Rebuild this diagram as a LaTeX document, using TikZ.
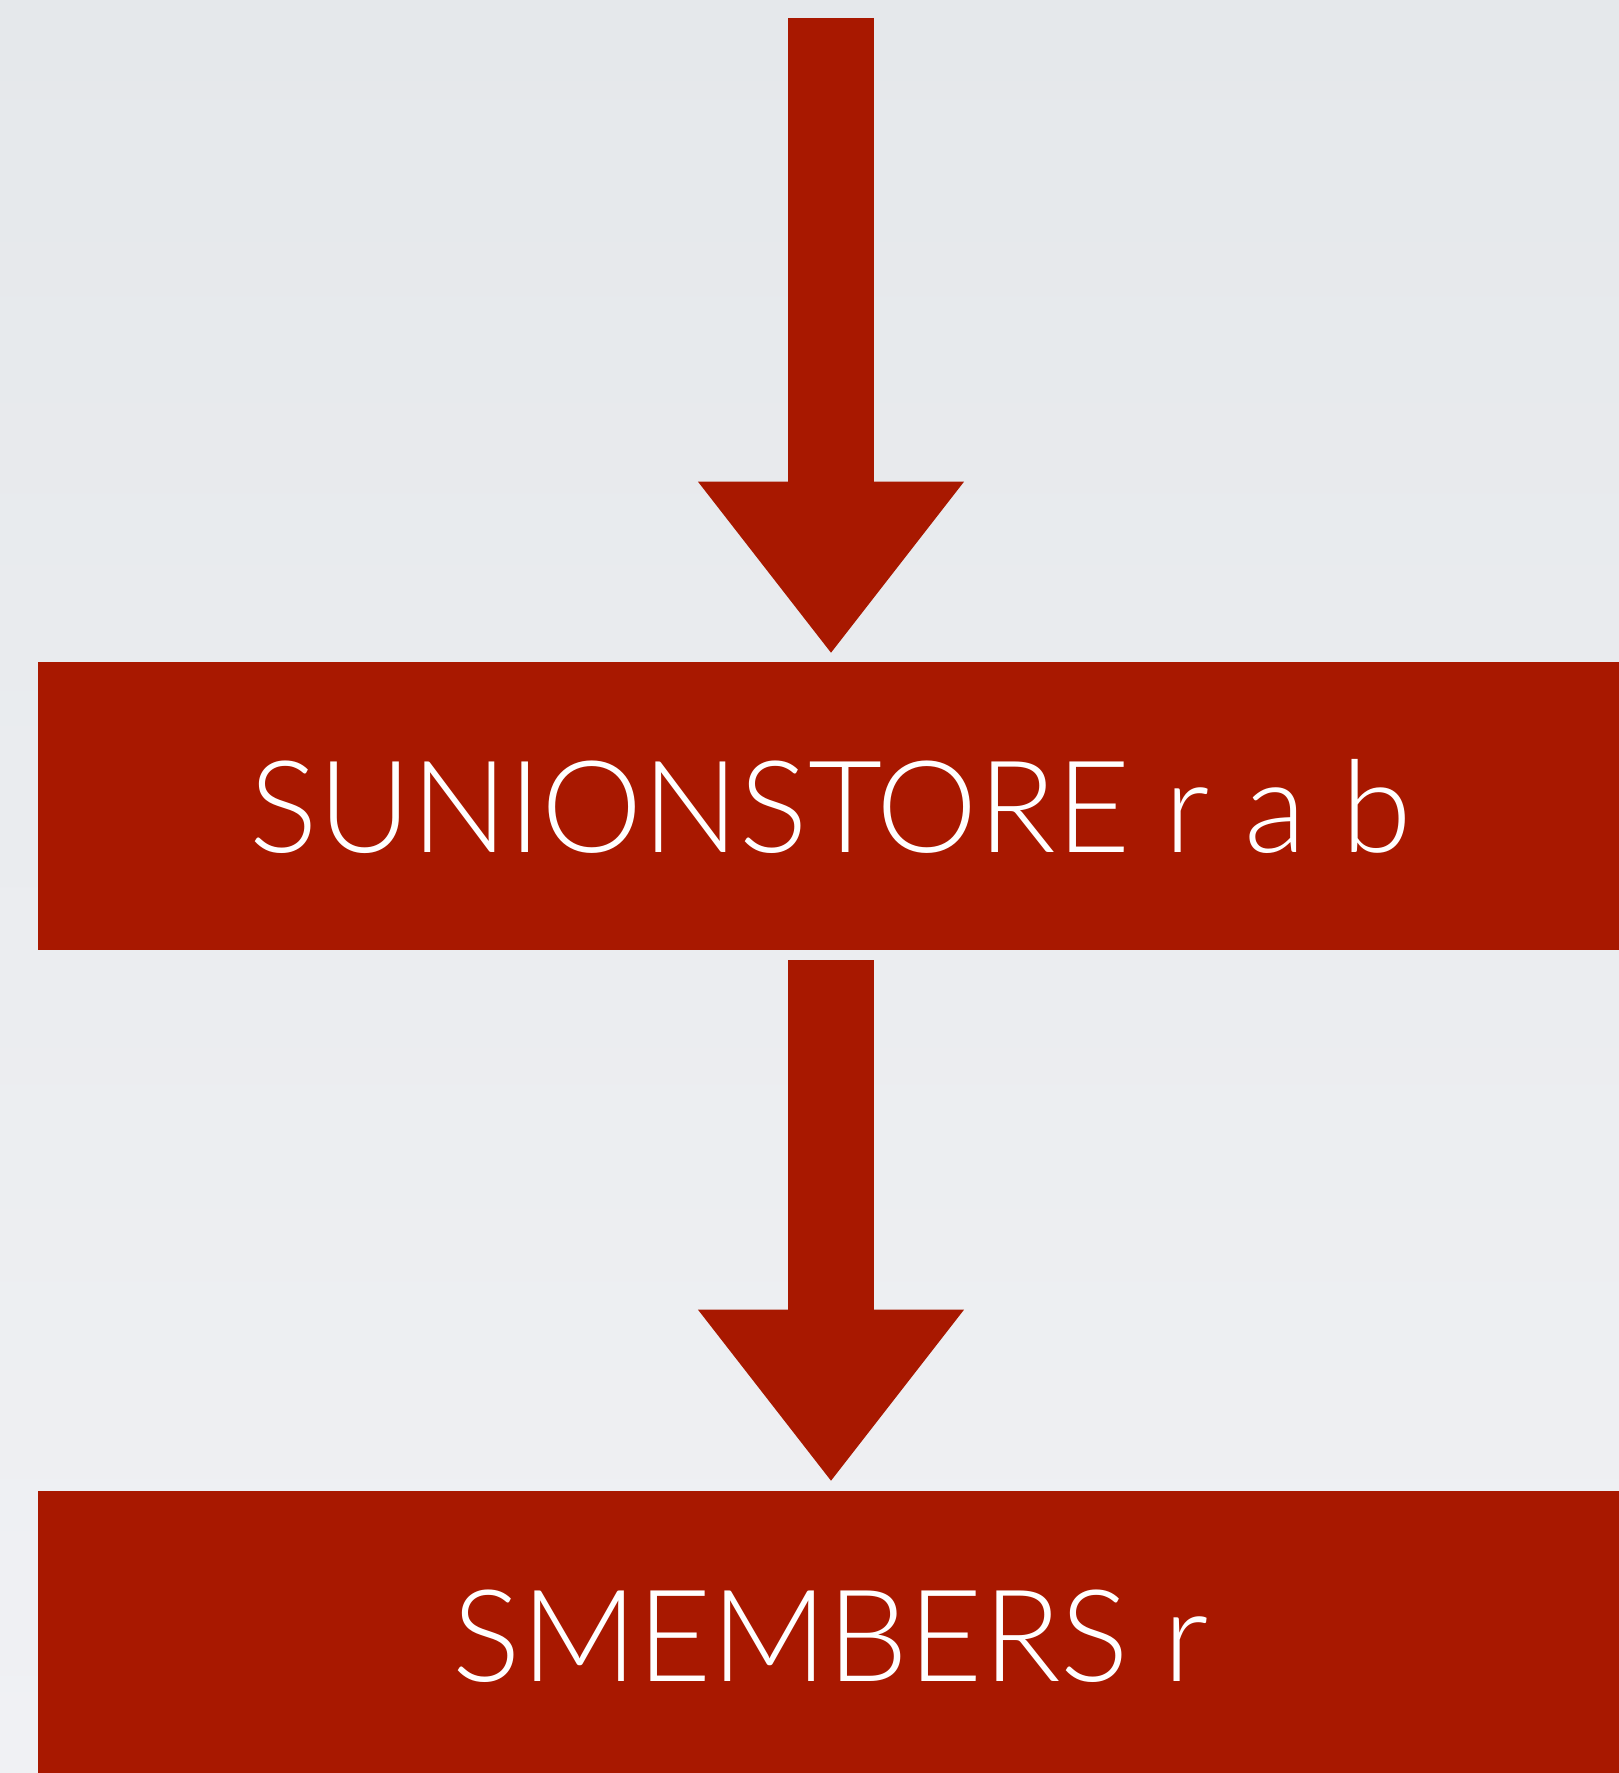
\documentclass[tikz,border=0pt]{standalone}
\usepackage{xcolor}
\usepackage{fontspec}
\setmainfont{Lato}[UprightFont=* Light]
\usepackage{tikz}
\usetikzlibrary{arrows.meta, calc}

\definecolor{cmdred}{HTML}{A81800}
\definecolor{bgtop}{HTML}{E5E8EB}
\definecolor{bgbottom}{HTML}{F0F1F4}

\begin{document}
\begin{tikzpicture}[x=0.01cm, y=-0.01cm,
    cmdbox/.style={fill=cmdred, minimum width=15.85cm, minimum height=2.87cm, inner sep=0pt,
        text=white, text height=0.93cm, text depth=0pt, font=\fontsize{36.4}{40}\selectfont},
    flow/.style={draw=cmdred, line width=0.86cm,
        -{Triangle[width=2.66cm, length=1.71cm, line width=0pt]}}]
    \useasboundingbox (0,0) rectangle (1619,1773);
    \clip (0,0) rectangle (1619,1773);
    \shade[top color=bgtop, bottom color=bgbottom] (0,0) rectangle (1619,1773);
    \node[cmdbox] (union) at (831,806) {SUNIONSTORE r a b};
    \node[cmdbox] (members) at (831,1635) {SMEMBERS r};
    \coordinate (start) at (831,18);
    \draw[flow, shorten >=0.09cm] (start) -- (union.north);
    \draw[flow, shorten <=0.1cm, shorten >=0.1cm] (union.south) -- (members.north);
\end{tikzpicture}
\end{document}
